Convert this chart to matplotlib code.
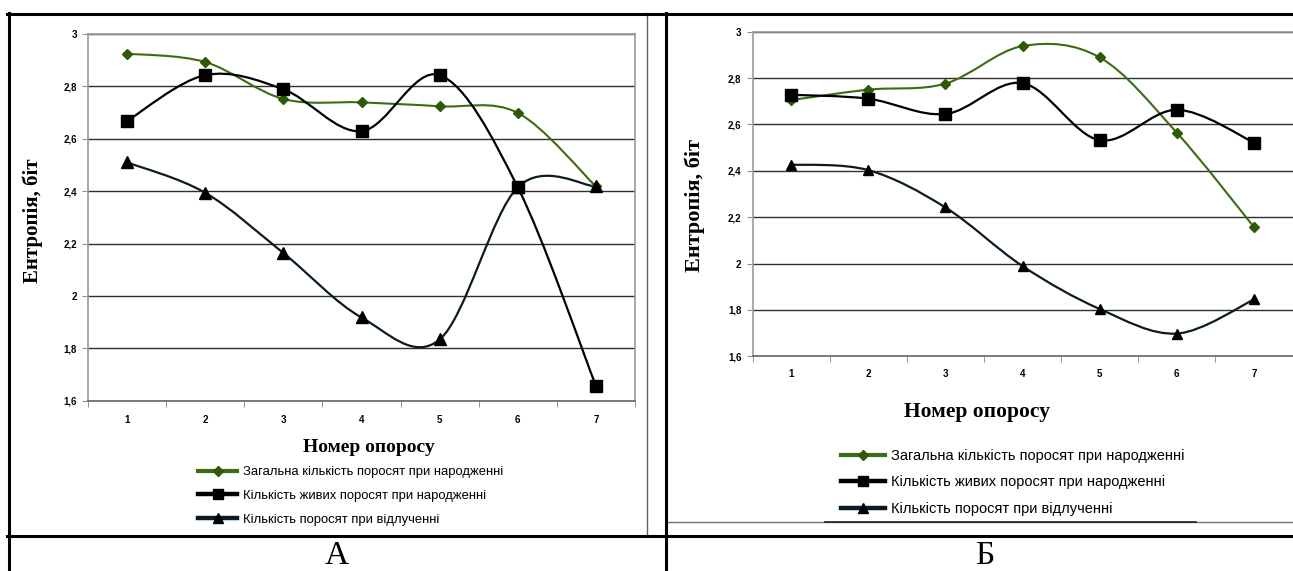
import matplotlib
matplotlib.use("Agg")
import matplotlib.pyplot as plt
from matplotlib.path import Path
from matplotlib.patches import PathPatch
from matplotlib.lines import Line2D

W, H = 1293, 571

# номер опоросу
opoross = [1, 2, 3, 4, 5, 6, 7]
y_ticks = [1.6, 1.8, 2.0, 2.2, 2.4, 2.6, 2.8, 3.0]
y_tick_labels = ["1,6", "1,8", "2", "2,2", "2,4", "2,6", "2,8", "3"]

series_names = ["Загальна кількість поросят при народженні",
                "Кількість живих поросят при народженні",
                "Кількість поросят при відлученні"]

# panel А
a_total = [2.925, 2.893, 2.752, 2.739, 2.724, 2.699, 2.418]
a_alive = [2.668, 2.843, 2.789, 2.629, 2.843, 2.415, 1.657]
a_wean = [2.510, 2.394, 2.164, 1.918, 1.834, 2.415, 2.418]

# panel Б
b_total = [2.705, 2.750, 2.776, 2.938, 2.889, 2.564, 2.157]
b_alive = [2.728, 2.711, 2.645, 2.778, 2.532, 2.663, 2.522]
b_wean = [2.427, 2.403, 2.242, 1.989, 1.804, 1.698, 1.845]

GREEN = "#3b6b12"
BLACK = "#000000"
NAVY = "#0b1b26"
GRID = "#2e2e2e"
SANS = ["Liberation Sans", "DejaVu Sans"]
SERIF = ["Liberation Serif", "DejaVu Serif"]


def fx(px):
    return px / W


def fy(py):
    return 1 - py / H


def smooth(ax, x, y, color, lw):
    # excel-like smoothed line (bezier through the points)
    pts = list(zip(x, y))
    n = len(pts)
    verts = [pts[0]]
    codes = [Path.MOVETO]
    for i in range(n - 1):
        p0 = pts[max(i - 1, 0)]
        p1 = pts[i]
        p2 = pts[i + 1]
        p3 = pts[min(i + 2, n - 1)]
        c1 = (p1[0] + (p2[0] - p0[0]) / 6, p1[1] + (p2[1] - p0[1]) / 6)
        c2 = (p2[0] - (p3[0] - p1[0]) / 6, p2[1] - (p3[1] - p1[1]) / 6)
        verts += [c1, c2, p2]
        codes += [Path.CURVE4] * 3
    ax.add_patch(PathPatch(Path(verts, codes), fill=False, edgecolor=color,
                           lw=lw, zorder=3, capstyle="round", joinstyle="round"))


def panel(fig, box, total, alive, wean, tick_fs, xpad, ypad, ms):
    left, top, right, bottom = box
    ax = fig.add_axes([fx(left), fy(bottom), fx(right - left), (bottom - top) / H])
    ax.set_xlim(0.5, 7.5)
    ax.set_ylim(1.6, 3.0)

    smooth(ax, opoross, total, GREEN, 1.5)
    smooth(ax, opoross, alive, BLACK, 1.6)
    smooth(ax, opoross, wean, NAVY, 1.6)
    ax.plot(opoross, total, ls="none", marker="D", ms=ms[0], color="#2e5a08", zorder=4)
    ax.plot(opoross, alive, ls="none", marker="s", ms=ms[1], color=BLACK, zorder=4)
    ax.plot(opoross, wean, ls="none", marker="^", ms=ms[2], color=BLACK, zorder=4)

    ax.set_yticks(y_ticks)
    ax.set_yticklabels(y_tick_labels, family=SANS, fontsize=tick_fs, weight="bold")
    ax.set_xticks(opoross)
    ax.set_xticklabels([str(v) for v in opoross], family=SANS, fontsize=tick_fs,
                       weight="bold")
    ax.set_xticks([i + 0.5 for i in range(8)], minor=True)
    ax.tick_params(axis="x", which="major", length=0, pad=xpad)
    ax.tick_params(axis="x", which="minor", length=4, color="#808080", direction="out")
    ax.tick_params(axis="y", length=4, color="#909090", direction="out", pad=ypad)
    ax.yaxis.grid(True, color=GRID, lw=1.0)
    ax.set_axisbelow(True)
    for s in ax.spines.values():
        s.set_color("#9a9a9a")
        s.set_linewidth(1.2)
    ax.spines["bottom"].set_color("#666666")
    return ax


def legend(ax, fig, x, y, fs, spacing):
    handles = [
        Line2D([], [], color=GREEN, lw=3, marker="D", ms=5, mfc="#2e5a08", mec="#2e5a08"),
        Line2D([], [], color=BLACK, lw=3.2, marker="s", ms=7),
        Line2D([], [], color=NAVY, lw=3.2, marker="^", ms=7, mfc=BLACK, mec=BLACK),
    ]
    ax.legend(handles, series_names, loc="upper left",
              bbox_to_anchor=(fx(x), fy(y)), bbox_transform=fig.transFigure,
              frameon=False, prop={"family": SANS, "size": fs},
              handlelength=3.0, handletextpad=0.45, labelspacing=spacing,
              borderpad=0, borderaxespad=0)


fig = plt.figure(figsize=(W / 100, H / 100), dpi=100)

# А
ax_a = panel(fig, (88, 34, 635, 400.8), a_total, a_alive, a_wean,
             tick_fs=7, xpad=10, ypad=4, ms=(5.5, 9, 8))
fig.text(fx(33), fy(221), "Ентропія, біт", rotation=90, family=SERIF,
         weight="bold", fontsize=15, ha="center", va="center")
fig.text(fx(369), fy(447), "Номер опоросу", family=SERIF, weight="bold",
         fontsize=14, ha="center", va="center")
legend(ax_a, fig, 198, 466, 9.4, 0.9)

# Б
ax_b = panel(fig, (752.5, 31.7, 1292.6, 356.3), b_total, b_alive, b_wean,
             tick_fs=7, xpad=9, ypad=4, ms=(5.5, 8.5, 7.5))
ax_b.spines["right"].set_visible(False)
fig.text(fx(695), fy(205), "Ентропія, біт", rotation=90, family=SERIF,
         weight="bold", fontsize=16, ha="center", va="center")
fig.text(fx(977), fy(412), "Номер опоросу", family=SERIF, weight="bold",
         fontsize=15.5, ha="center", va="center")
legend(ax_b, fig, 841, 449, 10.5, 0.85)


def hline(x0, x1, y, color="black", lw=2.0):
    fig.add_artist(Line2D([fx(x0), fx(x1)], [fy(y), fy(y)],
                          transform=fig.transFigure, color=color, lw=lw))


def vline(x, y0, y1, color="black", lw=2.0):
    fig.add_artist(Line2D([fx(x), fx(x)], [fy(y0), fy(y1)],
                          transform=fig.transFigure, color=color, lw=lw))


# picture borders inside the table
vline(646.5, 13, 535, color="#606060", lw=1.0)
hline(666, 1293, 521.5, color="#707070", lw=1.0)
hline(825, 1196, 521.5, color="#202020", lw=1.2)

# table
hline(7, 1293, 13.5, lw=2.2)
hline(7, 1293, 535.5, lw=2.2)
vline(8.5, 13, 571, lw=2.2)
vline(666, 13, 571, lw=2.2)

fig.text(fx(337), fy(570.6), "А", family=SERIF, fontsize=24, ha="center", va="bottom")
fig.text(fx(985), fy(570.6), "Б", family=SERIF, fontsize=24, ha="center", va="bottom")

fig.savefig("out.png", dpi=100)
